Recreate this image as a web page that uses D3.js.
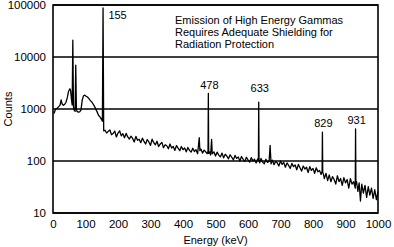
<html>
<head>
    <script src="https://d3js.org/d3.v7.min.js"></script>
    <style>
        body { margin: 0; background: #fff; }
        text { font-family: "Liberation Sans", Arial, sans-serif; fill: #000; }
    </style>
</head>
<body>
    <div id="chart">
        <svg width=394 height=247></svg>
    </div>
    <script>
        // spectrum (keV, counts), ten per row
        var energies = [
            3, 8, 12, 17, 22, 25, 28, 32, 36, 40,
            44, 48, 52, 54, 57, 59, 61, 63, 65, 68,
            70, 72, 74, 78, 82, 86, 90, 94, 98, 102,
            106, 110, 115, 120, 125, 130, 135, 140, 145, 150,
            152, 154, 156,
            160, 165, 170, 175, 180, 185, 190, 195, 200, 205,
            210, 215, 220, 225, 230, 235, 240, 245, 250, 255,
            260, 265, 270, 275, 280, 285, 290, 295, 300, 305,
            310, 315, 320, 325, 330, 335, 340, 345, 350, 355,
            360, 365, 370, 375, 380, 385, 390, 395, 400, 405,
            410, 415, 420, 425, 430, 435, 440, 445, 450, 452,
            455, 460, 465, 470, 474, 477, 478, 479, 482, 485,
            488, 490, 495, 500, 505, 510, 515, 520, 525, 530,
            535, 540, 545, 550, 555, 560, 565, 570, 575, 580,
            585, 590, 595, 600, 605, 610, 615, 620, 625, 630,
            632, 633, 634, 636, 640, 645, 650, 655, 660, 665,
            668, 671, 675, 680, 685, 690, 695, 700, 705, 710,
            715, 720, 725, 730, 735, 740, 745, 750, 755, 760,
            765, 770, 775, 780, 785, 790, 795, 800, 805, 810,
            815, 820, 825, 828, 829, 830, 832, 835, 840, 845,
            850, 855, 860, 865, 870, 875, 880, 885, 890, 895,
            900, 905, 910, 915, 920, 925, 930, 931, 932, 934,
            938, 942, 946, 950, 955, 960, 965, 970, 975, 980,
            985, 990, 995, 1000
        ]
        var counts = [
            820, 1000, 1020, 1100, 1200, 1500, 1250, 1180, 1230, 1350,
            1650, 2200, 2450, 2300, 1500, 1200, 21000, 1100, 950, 900,
            7000, 1000, 900, 870, 880, 950, 1500, 1800, 1850, 1750,
            1700, 1600, 1450, 1350, 1200, 1050, 900, 760, 700, 620,
            580, 88000, 380,
            390, 345, 372, 395, 320, 338, 375, 290, 345, 380,
            305, 335, 280, 340, 290, 265, 300, 272, 232, 298,
            250, 262, 225, 275, 238, 212, 258, 232, 200, 262,
            225, 205, 240, 190, 212, 228, 180, 205, 196, 172,
            212, 178, 190, 160, 198, 176, 158, 190, 165, 178,
            150, 182, 160, 148, 176, 152, 165, 138, 280, 158,
            170, 142, 162, 150, 138, 155, 2000, 140, 150, 130,
            260, 138, 150, 125, 148, 130, 120, 142, 115, 135,
            124, 110, 132, 118, 105, 128, 112, 120, 100, 122,
            108, 98, 118, 105, 95, 116, 100, 108, 92, 110,
            104, 1350, 102, 92, 112, 95, 88, 108, 94, 100,
            200, 88, 104, 85, 98, 92, 80, 100, 86, 94,
            76, 92, 82, 72, 90, 78, 84, 68, 86, 74,
            64, 80, 70, 76, 60, 78, 66, 72, 58, 74,
            62, 66, 55, 64, 360, 60, 56, 46, 58, 42,
            54, 40, 50, 44, 36, 52, 40, 46, 34, 48,
            38, 44, 30, 46, 36, 40, 30, 415, 36, 40,
            26, 38, 17, 36, 24, 34, 20, 32, 22, 30,
            19, 28, 18, 26
        ]

        var peakEnergies = [155, 478, 633, 829, 931]
        var peakLabelCounts = [54000, 2400, 2100, 450, 510]
        var xTicks = [0, 100, 200, 300, 400, 500, 600, 700, 800, 900, 1000]
        var yTicks = [10, 100, 1000, 10000, 100000]
        var titleLines = ["Emission of High Energy Gammas", "Requires Adequate Shielding for", "Radiation Protection"]

        var svg = d3.select('#chart svg')
        var margin = { left: 53, right: 16, top: 5, bottom: 34 }
        var w = 394 - margin.left - margin.right
        var h = 247 - margin.top - margin.bottom

        var xScale = d3.scaleLinear().domain([0, 1000]).range([margin.left, margin.left + w])
        var yScale = d3.scaleLog().domain([10, 100000]).range([margin.top + h, margin.top])

        // grid lines
        svg.append('g')
            .selectAll('line')
            .data(yTicks)
            .enter()
            .append('line')
            .attr('x1', margin.left)
            .attr('x2', margin.left + w)
            .attr('y1', function(d) { return yScale(d) })
            .attr('y2', function(d) { return yScale(d) })
            .attr('stroke', '#000')
            .attr('stroke-width', 1.3)

        // axes, labels only
        var yAxis = d3.axisLeft(yScale).tickValues(yTicks).tickSize(0).tickPadding(7).tickFormat(d3.format('d'))
        svg.append('g')
            .attr('transform', 'translate(' + margin.left + ',0)')
            .call(yAxis)
            .call(function(g) { g.select('.domain').remove() })
            .selectAll('text')
            .style('font-size', '11.5px')

        var xAxis = d3.axisBottom(xScale).tickValues(xTicks).tickSize(0).tickPadding(7).tickFormat(d3.format('d'))
        svg.append('g')
            .attr('transform', 'translate(0,' + (margin.top + h) + ')')
            .call(xAxis)
            .call(function(g) { g.select('.domain').remove() })
            .selectAll('text')
            .style('font-size', '11.5px')

        // the spectrum
        var line = d3.line()
            .x(function(d, i) { return xScale(energies[i]) })
            .y(function(d) { return yScale(d) })
        svg.append('path')
            .datum(counts)
            .attr('d', line)
            .attr('fill', 'none')
            .attr('stroke', '#000')
            .attr('stroke-width', 1.3)
            .attr('stroke-linejoin', 'round')

        // frame
        svg.append('rect')
            .attr('x', margin.left)
            .attr('y', margin.top)
            .attr('width', w)
            .attr('height', h)
            .attr('fill', 'none')
            .attr('stroke', '#000')
            .attr('stroke-width', 1.6)

        // peak labels
        svg.selectAll('text.peak')
            .data(peakEnergies)
            .enter()
            .append('text')
            .classed('peak', true)
            .attr('x', function(d, i) { return i == 0 ? xScale(d) + 5 : xScale(d) + 1 })
            .attr('y', function(d, i) { return yScale(peakLabelCounts[i]) })
            .attr('text-anchor', function(d, i) { return i == 0 ? 'start' : 'middle' })
            .style('font-size', '11px')
            .text(function(d) { return d })

        // title block
        svg.selectAll('text.title')
            .data(titleLines)
            .enter()
            .append('text')
            .classed('title', true)
            .attr('x', 175)
            .attr('y', function(d, i) { return 24 + i * 12 })
            .style('font-size', '11px')
            .text(function(d) { return d })

        svg.append('text')
            .attr('x', margin.left + w / 2)
            .attr('y', 244)
            .attr('text-anchor', 'middle')
            .style('font-size', '11px')
            .text('Energy (keV)')

        svg.append('text')
            .attr('transform', 'translate(12,' + (margin.top + h / 2) + ') rotate(-90)')
            .attr('text-anchor', 'middle')
            .style('font-size', '11px')
            .text('Counts')
    </script>
</body>
</html>
